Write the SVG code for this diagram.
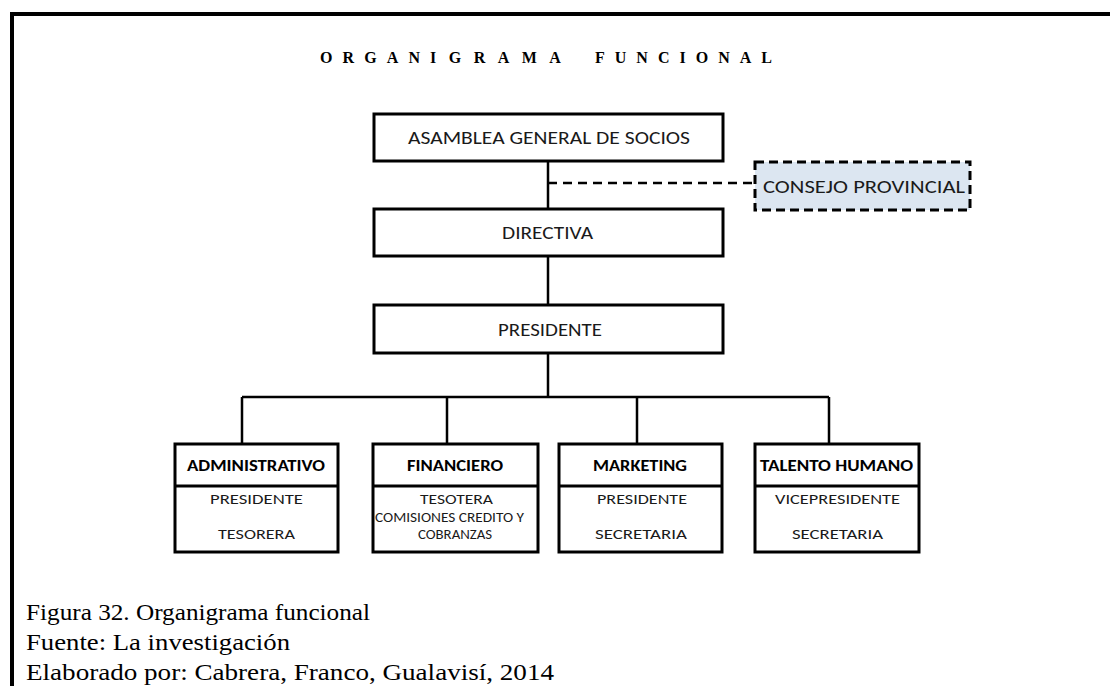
<svg xmlns="http://www.w3.org/2000/svg" width="1110" height="686" viewBox="0 0 1110 686">
  <style>
    .box { fill: #ffffff; stroke: #000000; stroke-width: 3; }
    .consejo { fill: #dce6f1; stroke: #000000; stroke-width: 3; stroke-dasharray: 9 5; }
    .line { fill: none; stroke: #000000; stroke-width: 2.5; }
    .sep { stroke: #000000; stroke-width: 3; }
    .dash { fill: none; stroke: #000000; stroke-width: 2.5; stroke-dasharray: 9 6; }
    .lbl { font-family: Carlito, "Open Sans", "Liberation Sans", sans-serif; font-size: 18px; fill: #1a1a1a; }
    .hdr { font-family: Carlito, "Open Sans", "Liberation Sans", sans-serif; font-size: 15.5px; font-weight: bold; fill: #000000; }
    .sub { font-family: Carlito, "Open Sans", "Liberation Sans", sans-serif; font-size: 14px; fill: #1a1a1a; }
    .title { font-family: "Liberation Serif", serif; font-size: 16px; font-weight: bold; fill: #000000; }
    .cap { font-family: "Liberation Serif", serif; font-size: 24px; fill: #000000; }
  </style>

  <rect width="1110" height="686" fill="#ffffff"/>

  <!-- page frame (left and top edges) -->
  <path d="M12 686 V14 H1110" fill="none" stroke="#000000" stroke-width="4"/>

  <!-- heading, letter-spaced -->
  <text class="title" y="63">
    <tspan x="320" textLength="100">ORGAN</tspan>
    <tspan x="430" textLength="130">IGRAMA</tspan>
    <tspan x="595" textLength="177">FUNCIONAL</tspan>
  </text>

  <!-- connectors -->
  <g id="connectors">
    <path class="line" d="M548 161 V209 M548 256 V305 M548 353 V397 M242 397 H829 M242 397 V444 M447 397 V444 M637 397 V444 M829 397 V444"/>
    <path class="dash" d="M548 183 H755"/>
  </g>

  <g id="asamblea">
    <rect class="box" x="374" y="114" width="349" height="47"/>
    <text class="lbl" x="408" y="144" textLength="282" lengthAdjust="spacingAndGlyphs">ASAMBLEA GENERAL DE SOCIOS</text>
  </g>

  <g id="consejo">
    <rect class="consejo" x="755" y="162" width="215" height="48"/>
    <text class="lbl" x="763" y="193" textLength="202" lengthAdjust="spacingAndGlyphs">CONSEJO PROVINCIAL</text>
  </g>

  <g id="directiva">
    <rect class="box" x="374" y="209" width="349" height="47"/>
    <text class="lbl" x="502" y="239" textLength="91" lengthAdjust="spacingAndGlyphs">DIRECTIVA</text>
  </g>

  <g id="presidente">
    <rect class="box" x="374" y="305" width="349" height="48"/>
    <text class="lbl" x="498" y="336" textLength="104" lengthAdjust="spacingAndGlyphs">PRESIDENTE</text>
  </g>

  <g id="administrativo">
    <rect class="box" x="175" y="444" width="163" height="108"/>
    <line class="sep" x1="175" y1="486" x2="338" y2="486"/>
    <text class="hdr" x="187" y="471" textLength="138" lengthAdjust="spacingAndGlyphs">ADMINISTRATIVO</text>
    <text class="sub" x="210" y="504" textLength="93" lengthAdjust="spacingAndGlyphs">PRESIDENTE</text>
    <text class="sub" x="218" y="539" textLength="77" lengthAdjust="spacingAndGlyphs">TESORERA</text>
  </g>

  <g id="financiero">
    <rect class="box" x="373" y="444" width="165" height="108"/>
    <line class="sep" x1="373" y1="486" x2="538" y2="486"/>
    <text class="hdr" x="407" y="471" textLength="96" lengthAdjust="spacingAndGlyphs">FINANCIERO</text>
    <text class="sub" x="420" y="504" textLength="73" lengthAdjust="spacingAndGlyphs">TESOTERA</text>
    <text class="sub" x="375" y="522" textLength="149" lengthAdjust="spacingAndGlyphs">COMISIONES CREDITO Y</text>
    <text class="sub" x="418" y="539" textLength="74" lengthAdjust="spacingAndGlyphs">COBRANZAS</text>
  </g>

  <g id="marketing">
    <rect class="box" x="559" y="444" width="163" height="108"/>
    <line class="sep" x1="559" y1="486" x2="722" y2="486"/>
    <text class="hdr" x="593" y="471" textLength="94" lengthAdjust="spacingAndGlyphs">MARKETING</text>
    <text class="sub" x="597" y="504" textLength="90" lengthAdjust="spacingAndGlyphs">PRESIDENTE</text>
    <text class="sub" x="595" y="539" textLength="92" lengthAdjust="spacingAndGlyphs">SECRETARIA</text>
  </g>

  <g id="talento">
    <rect class="box" x="755" y="444" width="164" height="108"/>
    <line class="sep" x1="755" y1="486" x2="919" y2="486"/>
    <text class="hdr" x="760" y="471" textLength="153" lengthAdjust="spacingAndGlyphs">TALENTO HUMANO</text>
    <text class="sub" x="775" y="504" textLength="125" lengthAdjust="spacingAndGlyphs">VICEPRESIDENTE</text>
    <text class="sub" x="792" y="539" textLength="91" lengthAdjust="spacingAndGlyphs">SECRETARIA</text>
  </g>

  <!-- caption -->
  <text class="cap" x="26" y="620" textLength="344" lengthAdjust="spacingAndGlyphs">Figura 32. Organigrama funcional</text>
  <text class="cap" x="26" y="650" textLength="264" lengthAdjust="spacingAndGlyphs">Fuente: La investigación</text>
  <text class="cap" x="26" y="680" textLength="528" lengthAdjust="spacingAndGlyphs">Elaborado por: Cabrera, Franco, Gualavisí, 2014</text>
</svg>
